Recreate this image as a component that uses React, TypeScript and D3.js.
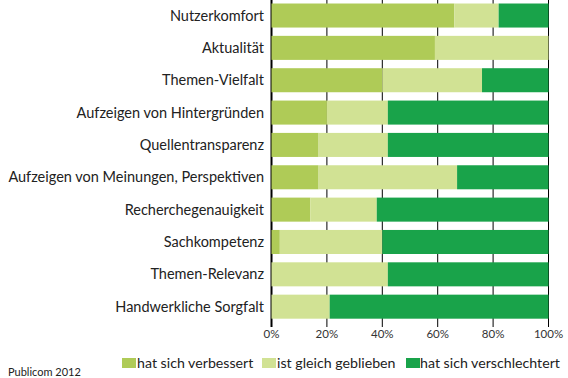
import React from "react";
import * as d3 from "d3";

const categories = [
  "Nutzerkomfort",
  "Aktualität",
  "Themen-Vielfalt",
  "Aufzeigen von Hintergründen",
  "Quellentransparenz",
  "Aufzeigen von Meinungen, Perspektiven",
  "Recherchegenauigkeit",
  "Sachkompetenz",
  "Themen-Relevanz",
  "Handwerkliche Sorgfalt",
];
const improved = [66, 59, 40, 20, 17, 17, 14, 3, 0, 0];
const same = [16, 41, 36, 22, 25, 50, 24, 37, 42, 21];
const worse = [18, 0, 24, 58, 58, 33, 62, 60, 58, 79];
const seriesNames = ["hat sich verbessert", "ist gleich geblieben", "hat sich verschlechtert"];
const colors = ["#AFCB57", "#D1E294", "#19A34A"];
const ticks = [0, 20, 40, 60, 80, 100];
const source = "Publicom 2012";

const FONT = "Lato, 'Noto Sans', sans-serif";

export default function App() {
  const W = 568, H = 378;
  const x = d3.scaleLinear().domain([0, 100]).range([271.5, 548.5]);
  const y = d3.scaleBand<string>().domain(categories).range([-0.65, 322.85]).paddingInner(0.257).paddingOuter(0.1285);
  const rows = categories.map((c, i) => ({ "0": improved[i], "1": same[i], "2": worse[i], c }));
  const stacked = d3.stack<any>().keys(["0", "1", "2"])(rows as any);
  const legendItems = [
    { sx: 122, tx: 137 },
    { sx: 262, tx: 277 },
    { sx: 406, tx: 420 },
  ];
  return (
    <svg width={W} height={H} style={{ position: "absolute", left: 0, top: 0, background: "#fff" }} fontFamily={FONT}>
      {ticks.map((t) => (
        <line key={t} x1={x(t)} x2={x(t)} y1={0} y2={327} stroke="#000" strokeWidth={t === 0 ? 2 : 1} />
      ))}
      {stacked.map((s, si) => (
        <g key={si} fill={colors[si]}>
          {s.map((d: any, i: number) =>
            d[1] - d[0] > 0 ? (
              <rect key={i} x={x(d[0])} y={y(categories[i])} width={x(d[1]) - x(d[0])} height={y.bandwidth()} />
            ) : null
          )}
        </g>
      ))}
      {categories.map((c) => (
        <text key={c} x={264} y={(y(c) as number) + y.bandwidth() / 2} dy="0.35em" textAnchor="end" fontSize={14.5} fill="#222">
          {c}
        </text>
      ))}
      {ticks.map((t) => (
        <text key={t} x={x(t)} y={338} textAnchor="middle" fontSize={11.5} fill="#333">
          {t}%
        </text>
      ))}
      {seriesNames.map((n, i) => (
        <g key={n}>
          <rect x={legendItems[i].sx} y={358} width={14} height={10} fill={colors[i]} />
          <text x={legendItems[i].tx} y={367.5} fontSize={14.2} fill="#222">
            {n}
          </text>
        </g>
      ))}
      <text x={8} y={376} fontSize={11} fill="#222">
        {source}
      </text>
    </svg>
  );
}
